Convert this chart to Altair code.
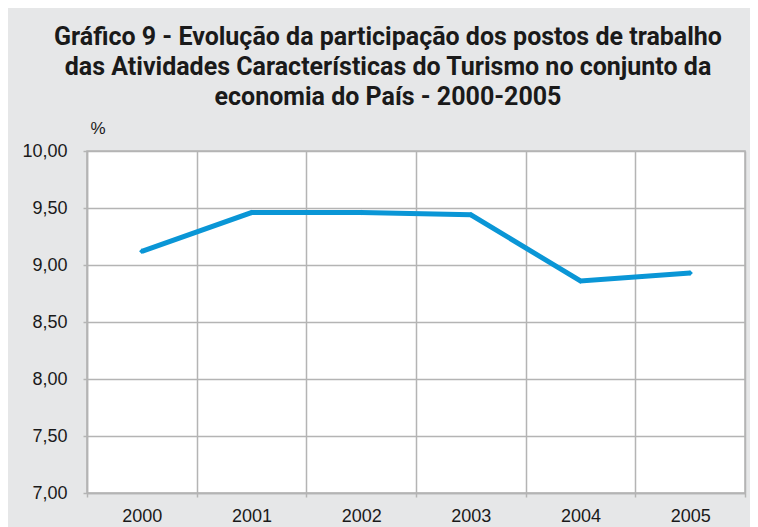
import altair as alt
import pandas as pd

anos = ["2000", "2001", "2002", "2003", "2004", "2005"]
valores = [9.12, 9.46, 9.46, 9.44, 8.86, 8.93]
y_ticks = [7.0, 7.5, 8.0, 8.5, 9.0, 9.5, 10.0]
titulo = [
    "Gráfico 9 - Evolução da participação dos postos de trabalho",
    "das Atividades Características do Turismo no conjunto da",
    "economia do País - 2000-2005",
]

df = pd.DataFrame({"ano": anos, "valor": valores})

azul = "#0a96d6"
grade = "#b4b4b4"
fonte = "Liberation Sans"

x = alt.X(
    "ano:O",
    scale=alt.Scale(type="band", paddingInner=0, paddingOuter=0),
    bandPosition=0.5,
    axis=alt.Axis(
        title=None,
        tickBand="extent",
        labelAngle=0,
        labelFontSize=18,
        labelFont=fonte,
        labelColor="#1a1a1a",
        labelPadding=10,
        tickSize=4,
        tickColor=grade,
        tickWidth=1.5,
        grid=True,
        gridColor=grade,
        gridWidth=1.5,
        domainColor=grade,
        domainWidth=1.5,
    ),
)

y = alt.Y(
    "valor:Q",
    scale=alt.Scale(domain=[7, 10], nice=False, zero=False),
    axis=alt.Axis(
        values=y_ticks,
        labelExpr="replace(format(datum.value, '.2f'), '.', ',')",
        labelFontSize=18,
        labelFont=fonte,
        labelColor="#1a1a1a",
        labelPadding=16,
        tickSize=4,
        tickColor=grade,
        tickWidth=1.5,
        grid=True,
        gridColor=grade,
        gridWidth=1.5,
        domainColor=grade,
        domainWidth=1.5,
        title="%",
        titleAngle=0,
        titleAlign="left",
        titleBaseline="middle",
        titleX=3,
        titleY=-23,
        titleFont=fonte,
        titleFontSize=17,
        titleFontWeight="normal",
        titleColor="#1a1a1a",
    ),
)

chart = (
    alt.Chart(df)
    .mark_line(
        color=azul,
        strokeWidth=5,
        point=alt.OverlayMarkDef(shape="diamond", size=30, filled=True, color=azul),
    )
    .encode(x=x, y=y)
    .properties(
        width=658,
        height=342,
        autosize="none",
        padding={"left": 79, "top": 143, "right": 5, "bottom": 34},
        background="#e6e7e8",
        title=alt.TitleParams(
            text=titulo,
            font="Roboto",
            fontSize=25,
            fontWeight="bold",
            color="#1a1a1a",
            lineHeight=30,
            anchor="middle",
            dx=-28,
            offset=9,
        ),
    )
    .configure_view(fill="white", stroke=grade, strokeWidth=1.5)
)

chart.save("out.html", embed_options={"renderer": "svg", "actions": False})
